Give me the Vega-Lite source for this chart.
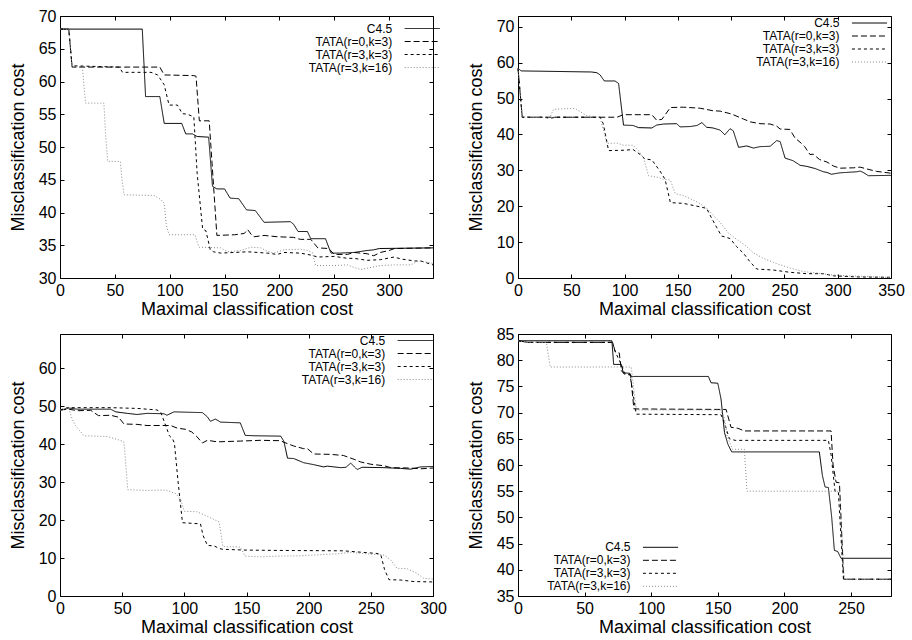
{
"$schema":"https://vega.github.io/schema/vega-lite/v6.json",
"background":"white",
"padding":{"left":8,"top":7,"right":0,"bottom":0},
"config":{
 "font":"Liberation Sans",
 "view":{"stroke":"black","strokeWidth":1},
 "axis":{"domain":false,"grid":false,"ticks":true,"tickSize":-4,"tickColor":"black","tickWidth":1,"labelFont":"Liberation Sans","labelFontSize":16,"labelColor":"black","labelPadding":8,"labelFlush":false,"labelOverlap":false,"titleFont":"Liberation Sans","titleFontSize":18,"titleFontWeight":"normal","titleColor":"black"},
 "axisX":{"titlePadding":2},
 "axisY":{"titlePadding":11},
 "legend":{"title":null,"orient":"none","symbolType":"M-3,0H3","symbolSize":137,"symbolStrokeWidth":1,"symbolOffset":15,"rowPadding":0,"labelAlign":"right","labelOffset":-36.5,"labelFontSize":12,"labelFont":"Liberation Sans","labelColor":"black","padding":0},
 "line":{"strokeWidth":1}
},
"datasets":{
"p1":[
{"s":"C4.5","x":0,"y":68},{"s":"C4.5","x":75,"y":68},{"s":"C4.5","x":78,"y":57.7},{"s":"C4.5","x":91,"y":57.7},{"s":"C4.5","x":95,"y":53.6},{"s":"C4.5","x":111,"y":53.6},{"s":"C4.5","x":114.6,"y":52},{"s":"C4.5","x":120.7,"y":52},{"s":"C4.5","x":125,"y":51.6},{"s":"C4.5","x":135.5,"y":51.5},{"s":"C4.5","x":139,"y":44},{"s":"C4.5","x":143,"y":43.6},{"s":"C4.5","x":150,"y":43.6},{"s":"C4.5","x":155,"y":42.2},{"s":"C4.5","x":163,"y":42.1},{"s":"C4.5","x":170,"y":40.4},{"s":"C4.5","x":178,"y":40.3},{"s":"C4.5","x":186,"y":38.5},{"s":"C4.5","x":210,"y":38.6},{"s":"C4.5","x":213,"y":38.2},{"s":"C4.5","x":217,"y":37.1},{"s":"C4.5","x":225.5,"y":37.1},{"s":"C4.5","x":228.6,"y":36},{"s":"C4.5","x":242,"y":36},{"s":"C4.5","x":247,"y":33.8},{"s":"C4.5","x":255,"y":33.8},{"s":"C4.5","x":268,"y":33.9},{"s":"C4.5","x":280,"y":34.2},{"s":"C4.5","x":286,"y":34.3},{"s":"C4.5","x":291,"y":34.5},{"s":"C4.5","x":340,"y":34.6},
{"s":"TATA(r=0,k=3)","x":0,"y":68},{"s":"TATA(r=0,k=3)","x":8,"y":68},{"s":"TATA(r=0,k=3)","x":11,"y":62.2},{"s":"TATA(r=0,k=3)","x":91,"y":62.2},{"s":"TATA(r=0,k=3)","x":95,"y":61},{"s":"TATA(r=0,k=3)","x":122,"y":60.9},{"s":"TATA(r=0,k=3)","x":124,"y":60.8},{"s":"TATA(r=0,k=3)","x":127,"y":54},{"s":"TATA(r=0,k=3)","x":136,"y":54},{"s":"TATA(r=0,k=3)","x":143,"y":36.5},{"s":"TATA(r=0,k=3)","x":159,"y":36.6},{"s":"TATA(r=0,k=3)","x":168,"y":36.8},{"s":"TATA(r=0,k=3)","x":171,"y":37.4},{"s":"TATA(r=0,k=3)","x":175,"y":36.5},{"s":"TATA(r=0,k=3)","x":177,"y":36.3},{"s":"TATA(r=0,k=3)","x":186,"y":36.5},{"s":"TATA(r=0,k=3)","x":198,"y":36.3},{"s":"TATA(r=0,k=3)","x":213,"y":36.2},{"s":"TATA(r=0,k=3)","x":219,"y":35.9},{"s":"TATA(r=0,k=3)","x":228.6,"y":35.9},{"s":"TATA(r=0,k=3)","x":235,"y":34.6},{"s":"TATA(r=0,k=3)","x":245,"y":34.5},{"s":"TATA(r=0,k=3)","x":250,"y":33.6},{"s":"TATA(r=0,k=3)","x":262,"y":33.6},{"s":"TATA(r=0,k=3)","x":268,"y":33.9},{"s":"TATA(r=0,k=3)","x":280,"y":33.7},{"s":"TATA(r=0,k=3)","x":286,"y":33.4},{"s":"TATA(r=0,k=3)","x":292,"y":33.9},{"s":"TATA(r=0,k=3)","x":300,"y":34.2},{"s":"TATA(r=0,k=3)","x":305,"y":34.5},{"s":"TATA(r=0,k=3)","x":340,"y":34.6},
{"s":"TATA(r=3,k=3)","x":0,"y":68},{"s":"TATA(r=3,k=3)","x":8,"y":68},{"s":"TATA(r=3,k=3)","x":11,"y":62.4},{"s":"TATA(r=3,k=3)","x":54,"y":62.2},{"s":"TATA(r=3,k=3)","x":57,"y":61.4},{"s":"TATA(r=3,k=3)","x":83,"y":61.4},{"s":"TATA(r=3,k=3)","x":89,"y":61},{"s":"TATA(r=3,k=3)","x":95,"y":59.5},{"s":"TATA(r=3,k=3)","x":99.4,"y":56.4},{"s":"TATA(r=3,k=3)","x":107,"y":56.4},{"s":"TATA(r=3,k=3)","x":111.5,"y":55.1},{"s":"TATA(r=3,k=3)","x":116,"y":55},{"s":"TATA(r=3,k=3)","x":122,"y":54.6},{"s":"TATA(r=3,k=3)","x":125,"y":46},{"s":"TATA(r=3,k=3)","x":130,"y":37.5},{"s":"TATA(r=3,k=3)","x":133,"y":37.2},{"s":"TATA(r=3,k=3)","x":137,"y":34.3},{"s":"TATA(r=3,k=3)","x":140,"y":34},{"s":"TATA(r=3,k=3)","x":146.5,"y":33.8},{"s":"TATA(r=3,k=3)","x":159,"y":33.9},{"s":"TATA(r=3,k=3)","x":171,"y":34},{"s":"TATA(r=3,k=3)","x":189,"y":33.8},{"s":"TATA(r=3,k=3)","x":198,"y":33.6},{"s":"TATA(r=3,k=3)","x":204,"y":33.9},{"s":"TATA(r=3,k=3)","x":219,"y":33.8},{"s":"TATA(r=3,k=3)","x":228.6,"y":33.5},{"s":"TATA(r=3,k=3)","x":235,"y":33.2},{"s":"TATA(r=3,k=3)","x":250,"y":33.3},{"s":"TATA(r=3,k=3)","x":262,"y":33},{"s":"TATA(r=3,k=3)","x":268,"y":33},{"s":"TATA(r=3,k=3)","x":280,"y":32.7},{"s":"TATA(r=3,k=3)","x":292,"y":32.8},{"s":"TATA(r=3,k=3)","x":304.6,"y":33.2},{"s":"TATA(r=3,k=3)","x":311,"y":32.9},{"s":"TATA(r=3,k=3)","x":323,"y":32.6},{"s":"TATA(r=3,k=3)","x":329,"y":32.6},{"s":"TATA(r=3,k=3)","x":340,"y":32},
{"s":"TATA(r=3,k=16)","x":0,"y":68},{"s":"TATA(r=3,k=16)","x":8,"y":68},{"s":"TATA(r=3,k=16)","x":11,"y":62.2},{"s":"TATA(r=3,k=16)","x":20.4,"y":62.2},{"s":"TATA(r=3,k=16)","x":22,"y":59},{"s":"TATA(r=3,k=16)","x":23.4,"y":56.7},{"s":"TATA(r=3,k=16)","x":40,"y":56.7},{"s":"TATA(r=3,k=16)","x":41.5,"y":52},{"s":"TATA(r=3,k=16)","x":43.5,"y":47.8},{"s":"TATA(r=3,k=16)","x":55,"y":47.8},{"s":"TATA(r=3,k=16)","x":56.5,"y":45},{"s":"TATA(r=3,k=16)","x":58.4,"y":42.7},{"s":"TATA(r=3,k=16)","x":85.7,"y":42.6},{"s":"TATA(r=3,k=16)","x":91.8,"y":42},{"s":"TATA(r=3,k=16)","x":95,"y":41.4},{"s":"TATA(r=3,k=16)","x":97,"y":38},{"s":"TATA(r=3,k=16)","x":99.4,"y":36.6},{"s":"TATA(r=3,k=16)","x":123,"y":36.6},{"s":"TATA(r=3,k=16)","x":125,"y":35.5},{"s":"TATA(r=3,k=16)","x":126.9,"y":34.7},{"s":"TATA(r=3,k=16)","x":146.5,"y":34.6},{"s":"TATA(r=3,k=16)","x":152.6,"y":34},{"s":"TATA(r=3,k=16)","x":164.7,"y":34.2},{"s":"TATA(r=3,k=16)","x":174,"y":34.7},{"s":"TATA(r=3,k=16)","x":183,"y":34.6},{"s":"TATA(r=3,k=16)","x":189,"y":34.1},{"s":"TATA(r=3,k=16)","x":195,"y":33.8},{"s":"TATA(r=3,k=16)","x":204,"y":34.3},{"s":"TATA(r=3,k=16)","x":219,"y":34.4},{"s":"TATA(r=3,k=16)","x":225.5,"y":34.2},{"s":"TATA(r=3,k=16)","x":230,"y":33.9},{"s":"TATA(r=3,k=16)","x":233,"y":31.9},{"s":"TATA(r=3,k=16)","x":250,"y":31.9},{"s":"TATA(r=3,k=16)","x":262,"y":32},{"s":"TATA(r=3,k=16)","x":268,"y":31.6},{"s":"TATA(r=3,k=16)","x":274,"y":31.3},{"s":"TATA(r=3,k=16)","x":280,"y":31.5},{"s":"TATA(r=3,k=16)","x":292,"y":31.9},{"s":"TATA(r=3,k=16)","x":304.6,"y":32},{"s":"TATA(r=3,k=16)","x":320,"y":32},{"s":"TATA(r=3,k=16)","x":326,"y":32.6},{"s":"TATA(r=3,k=16)","x":335,"y":32.4},{"s":"TATA(r=3,k=16)","x":340,"y":32.2}
],
"p2":[
{"s":"C4.5","x":0,"y":58.4},{"s":"C4.5","x":3,"y":57.7},{"s":"C4.5","x":69,"y":57.4},{"s":"C4.5","x":74,"y":57.2},{"s":"C4.5","x":77,"y":56.6},{"s":"C4.5","x":81,"y":54.9},{"s":"C4.5","x":91,"y":54.9},{"s":"C4.5","x":94.4,"y":54.2},{"s":"C4.5","x":99,"y":42.6},{"s":"C4.5","x":108,"y":42.5},{"s":"C4.5","x":113,"y":41.9},{"s":"C4.5","x":125.6,"y":41.8},{"s":"C4.5","x":130,"y":42.6},{"s":"C4.5","x":136.6,"y":42.9},{"s":"C4.5","x":149,"y":43},{"s":"C4.5","x":152,"y":42.1},{"s":"C4.5","x":161.6,"y":42.2},{"s":"C4.5","x":168,"y":42.5},{"s":"C4.5","x":172.5,"y":43.3},{"s":"C4.5","x":177,"y":42},{"s":"C4.5","x":183,"y":41.8},{"s":"C4.5","x":189.7,"y":41.2},{"s":"C4.5","x":194,"y":39.9},{"s":"C4.5","x":199,"y":41.6},{"s":"C4.5","x":202,"y":41},{"s":"C4.5","x":207,"y":36.4},{"s":"C4.5","x":214.7,"y":36.8},{"s":"C4.5","x":221,"y":36.2},{"s":"C4.5","x":227,"y":36.6},{"s":"C4.5","x":236.6,"y":36.7},{"s":"C4.5","x":242.8,"y":38.3},{"s":"C4.5","x":246,"y":38},{"s":"C4.5","x":250.6,"y":33.4},{"s":"C4.5","x":258,"y":32.7},{"s":"C4.5","x":264.7,"y":31.4},{"s":"C4.5","x":271,"y":31.1},{"s":"C4.5","x":278.8,"y":30.5},{"s":"C4.5","x":286.6,"y":29.6},{"s":"C4.5","x":290,"y":29.4},{"s":"C4.5","x":294,"y":28.9},{"s":"C4.5","x":302,"y":29.3},{"s":"C4.5","x":318,"y":29.6},{"s":"C4.5","x":321,"y":29.8},{"s":"C4.5","x":324,"y":29.4},{"s":"C4.5","x":328.8,"y":28.5},{"s":"C4.5","x":350,"y":28.6},
{"s":"TATA(r=0,k=3)","x":0,"y":58.4},{"s":"TATA(r=0,k=3)","x":4,"y":44.8},{"s":"TATA(r=0,k=3)","x":92.8,"y":44.8},{"s":"TATA(r=0,k=3)","x":99,"y":45.5},{"s":"TATA(r=0,k=3)","x":125.6,"y":45.5},{"s":"TATA(r=0,k=3)","x":130,"y":44},{"s":"TATA(r=0,k=3)","x":135,"y":44.2},{"s":"TATA(r=0,k=3)","x":143,"y":47.5},{"s":"TATA(r=0,k=3)","x":155,"y":47.6},{"s":"TATA(r=0,k=3)","x":171,"y":47.3},{"s":"TATA(r=0,k=3)","x":183,"y":46.6},{"s":"TATA(r=0,k=3)","x":189.7,"y":46.5},{"s":"TATA(r=0,k=3)","x":199,"y":45.8},{"s":"TATA(r=0,k=3)","x":202,"y":45.5},{"s":"TATA(r=0,k=3)","x":211.5,"y":44.3},{"s":"TATA(r=0,k=3)","x":218,"y":43.5},{"s":"TATA(r=0,k=3)","x":227,"y":43},{"s":"TATA(r=0,k=3)","x":236.6,"y":42.9},{"s":"TATA(r=0,k=3)","x":242.8,"y":42.3},{"s":"TATA(r=0,k=3)","x":246,"y":41.5},{"s":"TATA(r=0,k=3)","x":255,"y":41.4},{"s":"TATA(r=0,k=3)","x":260,"y":39},{"s":"TATA(r=0,k=3)","x":266,"y":37.5},{"s":"TATA(r=0,k=3)","x":269,"y":36.6},{"s":"TATA(r=0,k=3)","x":274,"y":34.4},{"s":"TATA(r=0,k=3)","x":277,"y":34.5},{"s":"TATA(r=0,k=3)","x":283,"y":33},{"s":"TATA(r=0,k=3)","x":290,"y":32.3},{"s":"TATA(r=0,k=3)","x":296,"y":31.2},{"s":"TATA(r=0,k=3)","x":302,"y":30.6},{"s":"TATA(r=0,k=3)","x":315,"y":30.7},{"s":"TATA(r=0,k=3)","x":321,"y":30.9},{"s":"TATA(r=0,k=3)","x":327,"y":30.4},{"s":"TATA(r=0,k=3)","x":336.6,"y":29.7},{"s":"TATA(r=0,k=3)","x":350,"y":29.2},
{"s":"TATA(r=3,k=3)","x":0,"y":58.4},{"s":"TATA(r=3,k=3)","x":4,"y":44.8},{"s":"TATA(r=3,k=3)","x":24,"y":44.8},{"s":"TATA(r=3,k=3)","x":30,"y":44.5},{"s":"TATA(r=3,k=3)","x":36,"y":44.8},{"s":"TATA(r=3,k=3)","x":77,"y":44.8},{"s":"TATA(r=3,k=3)","x":80,"y":43},{"s":"TATA(r=3,k=3)","x":85,"y":35.5},{"s":"TATA(r=3,k=3)","x":100,"y":35.6},{"s":"TATA(r=3,k=3)","x":108,"y":35.8},{"s":"TATA(r=3,k=3)","x":114.7,"y":34.4},{"s":"TATA(r=3,k=3)","x":119,"y":33.2},{"s":"TATA(r=3,k=3)","x":125.6,"y":32.9},{"s":"TATA(r=3,k=3)","x":133,"y":29.9},{"s":"TATA(r=3,k=3)","x":138,"y":27.5},{"s":"TATA(r=3,k=3)","x":143,"y":21},{"s":"TATA(r=3,k=3)","x":155,"y":20.8},{"s":"TATA(r=3,k=3)","x":168,"y":20},{"s":"TATA(r=3,k=3)","x":177,"y":19.4},{"s":"TATA(r=3,k=3)","x":180,"y":17.6},{"s":"TATA(r=3,k=3)","x":186.6,"y":14},{"s":"TATA(r=3,k=3)","x":191,"y":11.7},{"s":"TATA(r=3,k=3)","x":199,"y":11},{"s":"TATA(r=3,k=3)","x":205,"y":8.8},{"s":"TATA(r=3,k=3)","x":211.5,"y":6.9},{"s":"TATA(r=3,k=3)","x":218,"y":4.4},{"s":"TATA(r=3,k=3)","x":224,"y":2.5},{"s":"TATA(r=3,k=3)","x":240,"y":2.2},{"s":"TATA(r=3,k=3)","x":255,"y":1.6},{"s":"TATA(r=3,k=3)","x":271,"y":1.2},{"s":"TATA(r=3,k=3)","x":286.6,"y":1.2},{"s":"TATA(r=3,k=3)","x":296,"y":0.6},{"s":"TATA(r=3,k=3)","x":318,"y":0.3},{"s":"TATA(r=3,k=3)","x":350,"y":0.2},
{"s":"TATA(r=3,k=16)","x":0,"y":58.4},{"s":"TATA(r=3,k=16)","x":4,"y":44.8},{"s":"TATA(r=3,k=16)","x":30,"y":44.8},{"s":"TATA(r=3,k=16)","x":33.4,"y":47},{"s":"TATA(r=3,k=16)","x":46,"y":47.2},{"s":"TATA(r=3,k=16)","x":53.8,"y":47.2},{"s":"TATA(r=3,k=16)","x":58,"y":46.4},{"s":"TATA(r=3,k=16)","x":64.7,"y":45.2},{"s":"TATA(r=3,k=16)","x":77,"y":44.8},{"s":"TATA(r=3,k=16)","x":83.4,"y":37.5},{"s":"TATA(r=3,k=16)","x":92.8,"y":37.6},{"s":"TATA(r=3,k=16)","x":99,"y":37},{"s":"TATA(r=3,k=16)","x":108,"y":37},{"s":"TATA(r=3,k=16)","x":113,"y":35.5},{"s":"TATA(r=3,k=16)","x":117.8,"y":33.4},{"s":"TATA(r=3,k=16)","x":122.5,"y":28.5},{"s":"TATA(r=3,k=16)","x":132,"y":28},{"s":"TATA(r=3,k=16)","x":136.6,"y":27.5},{"s":"TATA(r=3,k=16)","x":143,"y":27.3},{"s":"TATA(r=3,k=16)","x":147.5,"y":23.5},{"s":"TATA(r=3,k=16)","x":155,"y":23},{"s":"TATA(r=3,k=16)","x":168,"y":21.2},{"s":"TATA(r=3,k=16)","x":177,"y":19.5},{"s":"TATA(r=3,k=16)","x":183,"y":17.5},{"s":"TATA(r=3,k=16)","x":189.7,"y":15.5},{"s":"TATA(r=3,k=16)","x":197.5,"y":12.5},{"s":"TATA(r=3,k=16)","x":205,"y":10.8},{"s":"TATA(r=3,k=16)","x":213,"y":9.2},{"s":"TATA(r=3,k=16)","x":221,"y":7},{"s":"TATA(r=3,k=16)","x":230,"y":5.5},{"s":"TATA(r=3,k=16)","x":242.8,"y":4},{"s":"TATA(r=3,k=16)","x":255,"y":2.8},{"s":"TATA(r=3,k=16)","x":268,"y":1.8},{"s":"TATA(r=3,k=16)","x":280,"y":1.4},{"s":"TATA(r=3,k=16)","x":292.8,"y":0.9},{"s":"TATA(r=3,k=16)","x":311.5,"y":0.6},{"s":"TATA(r=3,k=16)","x":330,"y":0.4},{"s":"TATA(r=3,k=16)","x":350,"y":0.1}
],
"p3":[
{"s":"C4.5","x":0,"y":48.9},{"s":"C4.5","x":7,"y":49.5},{"s":"C4.5","x":14,"y":49.2},{"s":"C4.5","x":40.7,"y":49.2},{"s":"C4.5","x":44.8,"y":48.5},{"s":"C4.5","x":54,"y":48.1},{"s":"C4.5","x":62,"y":47.8},{"s":"C4.5","x":70,"y":48.1},{"s":"C4.5","x":83.6,"y":48},{"s":"C4.5","x":86,"y":47.6},{"s":"C4.5","x":91.7,"y":48.5},{"s":"C4.5","x":102,"y":48.4},{"s":"C4.5","x":114.5,"y":48.3},{"s":"C4.5","x":118.5,"y":47.2},{"s":"C4.5","x":121,"y":46},{"s":"C4.5","x":125,"y":46.6},{"s":"C4.5","x":129,"y":45.8},{"s":"C4.5","x":145,"y":45.6},{"s":"C4.5","x":149,"y":42.3},{"s":"C4.5","x":156,"y":42.2},{"s":"C4.5","x":177.5,"y":42.1},{"s":"C4.5","x":180,"y":40.8},{"s":"C4.5","x":183,"y":36.3},{"s":"C4.5","x":188,"y":36.2},{"s":"C4.5","x":196,"y":35.1},{"s":"C4.5","x":204,"y":34.6},{"s":"C4.5","x":212,"y":34},{"s":"C4.5","x":215,"y":34.2},{"s":"C4.5","x":225.7,"y":33.8},{"s":"C4.5","x":230,"y":33.9},{"s":"C4.5","x":233.8,"y":35},{"s":"C4.5","x":239,"y":33.3},{"s":"C4.5","x":243,"y":33.9},{"s":"C4.5","x":260.6,"y":33.8},{"s":"C4.5","x":274,"y":33.6},{"s":"C4.5","x":282,"y":33.4},{"s":"C4.5","x":290,"y":34},{"s":"C4.5","x":300,"y":34.1},
{"s":"TATA(r=0,k=3)","x":0,"y":49},{"s":"TATA(r=0,k=3)","x":7,"y":49.2},{"s":"TATA(r=0,k=3)","x":14,"y":48.8},{"s":"TATA(r=0,k=3)","x":24.7,"y":48.9},{"s":"TATA(r=0,k=3)","x":31,"y":47.5},{"s":"TATA(r=0,k=3)","x":40.7,"y":47.6},{"s":"TATA(r=0,k=3)","x":47,"y":47.1},{"s":"TATA(r=0,k=3)","x":51.5,"y":45.3},{"s":"TATA(r=0,k=3)","x":62,"y":45.2},{"s":"TATA(r=0,k=3)","x":70,"y":44.9},{"s":"TATA(r=0,k=3)","x":89,"y":44.9},{"s":"TATA(r=0,k=3)","x":94.4,"y":44.2},{"s":"TATA(r=0,k=3)","x":101,"y":43.9},{"s":"TATA(r=0,k=3)","x":106,"y":43.2},{"s":"TATA(r=0,k=3)","x":110,"y":42},{"s":"TATA(r=0,k=3)","x":114.5,"y":40.3},{"s":"TATA(r=0,k=3)","x":118.5,"y":41},{"s":"TATA(r=0,k=3)","x":126.5,"y":40.6},{"s":"TATA(r=0,k=3)","x":145,"y":40.8},{"s":"TATA(r=0,k=3)","x":161,"y":41},{"s":"TATA(r=0,k=3)","x":177.5,"y":40.9},{"s":"TATA(r=0,k=3)","x":180,"y":40.5},{"s":"TATA(r=0,k=3)","x":188,"y":39.5},{"s":"TATA(r=0,k=3)","x":196,"y":38.8},{"s":"TATA(r=0,k=3)","x":199,"y":38.8},{"s":"TATA(r=0,k=3)","x":204,"y":37.4},{"s":"TATA(r=0,k=3)","x":217.7,"y":37.3},{"s":"TATA(r=0,k=3)","x":228,"y":37},{"s":"TATA(r=0,k=3)","x":236.5,"y":36},{"s":"TATA(r=0,k=3)","x":241.8,"y":35.3},{"s":"TATA(r=0,k=3)","x":250,"y":34.7},{"s":"TATA(r=0,k=3)","x":260.6,"y":34.3},{"s":"TATA(r=0,k=3)","x":266,"y":33.8},{"s":"TATA(r=0,k=3)","x":282,"y":33.7},{"s":"TATA(r=0,k=3)","x":290,"y":33.5},{"s":"TATA(r=0,k=3)","x":300,"y":33.7},
{"s":"TATA(r=3,k=3)","x":0,"y":49},{"s":"TATA(r=3,k=3)","x":6,"y":49.6},{"s":"TATA(r=3,k=3)","x":40.7,"y":49.6},{"s":"TATA(r=3,k=3)","x":62,"y":49.4},{"s":"TATA(r=3,k=3)","x":78,"y":49},{"s":"TATA(r=3,k=3)","x":81,"y":48.4},{"s":"TATA(r=3,k=3)","x":85,"y":44.9},{"s":"TATA(r=3,k=3)","x":88,"y":42.2},{"s":"TATA(r=3,k=3)","x":90.5,"y":41.4},{"s":"TATA(r=3,k=3)","x":92,"y":40.3},{"s":"TATA(r=3,k=3)","x":95,"y":30},{"s":"TATA(r=3,k=3)","x":98.5,"y":19.3},{"s":"TATA(r=3,k=3)","x":113,"y":19},{"s":"TATA(r=3,k=3)","x":115,"y":16},{"s":"TATA(r=3,k=3)","x":118.6,"y":13.3},{"s":"TATA(r=3,k=3)","x":124,"y":13.2},{"s":"TATA(r=3,k=3)","x":128,"y":12.5},{"s":"TATA(r=3,k=3)","x":131,"y":12.3},{"s":"TATA(r=3,k=3)","x":148,"y":12.1},{"s":"TATA(r=3,k=3)","x":175,"y":12},{"s":"TATA(r=3,k=3)","x":228,"y":11.9},{"s":"TATA(r=3,k=3)","x":247,"y":11.4},{"s":"TATA(r=3,k=3)","x":255,"y":11.2},{"s":"TATA(r=3,k=3)","x":258,"y":10.9},{"s":"TATA(r=3,k=3)","x":261,"y":7},{"s":"TATA(r=3,k=3)","x":264.6,"y":4.3},{"s":"TATA(r=3,k=3)","x":274,"y":4.2},{"s":"TATA(r=3,k=3)","x":284.7,"y":3.8},{"s":"TATA(r=3,k=3)","x":300,"y":3.7},
{"s":"TATA(r=3,k=16)","x":0,"y":49},{"s":"TATA(r=3,k=16)","x":7,"y":49.4},{"s":"TATA(r=3,k=16)","x":10,"y":46.4},{"s":"TATA(r=3,k=16)","x":12.6,"y":44.8},{"s":"TATA(r=3,k=16)","x":19.3,"y":42.2},{"s":"TATA(r=3,k=16)","x":38,"y":42},{"s":"TATA(r=3,k=16)","x":43.4,"y":41.5},{"s":"TATA(r=3,k=16)","x":50,"y":40.8},{"s":"TATA(r=3,k=16)","x":51.5,"y":40.5},{"s":"TATA(r=3,k=16)","x":54.5,"y":28},{"s":"TATA(r=3,k=16)","x":70,"y":27.8},{"s":"TATA(r=3,k=16)","x":85,"y":27.9},{"s":"TATA(r=3,k=16)","x":93,"y":27},{"s":"TATA(r=3,k=16)","x":97,"y":25.5},{"s":"TATA(r=3,k=16)","x":100,"y":22.3},{"s":"TATA(r=3,k=16)","x":110,"y":22.2},{"s":"TATA(r=3,k=16)","x":118.5,"y":21},{"s":"TATA(r=3,k=16)","x":128,"y":19.5},{"s":"TATA(r=3,k=16)","x":131,"y":13},{"s":"TATA(r=3,k=16)","x":145,"y":12.9},{"s":"TATA(r=3,k=16)","x":149,"y":10.5},{"s":"TATA(r=3,k=16)","x":161,"y":10.3},{"s":"TATA(r=3,k=16)","x":175,"y":10.5},{"s":"TATA(r=3,k=16)","x":193.6,"y":10.6},{"s":"TATA(r=3,k=16)","x":209.7,"y":10.9},{"s":"TATA(r=3,k=16)","x":223,"y":11.1},{"s":"TATA(r=3,k=16)","x":233.8,"y":11.5},{"s":"TATA(r=3,k=16)","x":247,"y":11.1},{"s":"TATA(r=3,k=16)","x":260.6,"y":10.8},{"s":"TATA(r=3,k=16)","x":266,"y":9.5},{"s":"TATA(r=3,k=16)","x":271,"y":7.3},{"s":"TATA(r=3,k=16)","x":279,"y":7.2},{"s":"TATA(r=3,k=16)","x":287,"y":6},{"s":"TATA(r=3,k=16)","x":292.8,"y":4.6},{"s":"TATA(r=3,k=16)","x":300,"y":4.5}
],
"p4":[
{"s":"C4.5","x":0,"y":83.7},{"s":"C4.5","x":70.5,"y":83.7},{"s":"C4.5","x":71.8,"y":79.2},{"s":"C4.5","x":77.6,"y":79.2},{"s":"C4.5","x":79,"y":77.6},{"s":"C4.5","x":84,"y":77.5},{"s":"C4.5","x":85,"y":76.9},{"s":"C4.5","x":142.9,"y":76.9},{"s":"C4.5","x":144.9,"y":75.7},{"s":"C4.5","x":150,"y":75.6},{"s":"C4.5","x":152.4,"y":72.6},{"s":"C4.5","x":155,"y":66.2},{"s":"C4.5","x":157.5,"y":64},{"s":"C4.5","x":160.4,"y":62.5},{"s":"C4.5","x":226.2,"y":62.5},{"s":"C4.5","x":228.5,"y":58},{"s":"C4.5","x":230.5,"y":55.8},{"s":"C4.5","x":233,"y":55.7},{"s":"C4.5","x":235.5,"y":50},{"s":"C4.5","x":237.5,"y":43.7},{"s":"C4.5","x":240,"y":43.5},{"s":"C4.5","x":242.5,"y":42.2},{"s":"C4.5","x":280,"y":42.2},
{"s":"TATA(r=0,k=3)","x":0,"y":83.7},{"s":"TATA(r=0,k=3)","x":7.5,"y":83.4},{"s":"TATA(r=0,k=3)","x":71,"y":83.4},{"s":"TATA(r=0,k=3)","x":73,"y":81.6},{"s":"TATA(r=0,k=3)","x":76,"y":81.4},{"s":"TATA(r=0,k=3)","x":77.6,"y":78},{"s":"TATA(r=0,k=3)","x":80,"y":77.3},{"s":"TATA(r=0,k=3)","x":84.5,"y":77.2},{"s":"TATA(r=0,k=3)","x":87,"y":70.7},{"s":"TATA(r=0,k=3)","x":156.2,"y":70.6},{"s":"TATA(r=0,k=3)","x":159.9,"y":67.2},{"s":"TATA(r=0,k=3)","x":165,"y":67},{"s":"TATA(r=0,k=3)","x":170,"y":66.5},{"s":"TATA(r=0,k=3)","x":235,"y":66.5},{"s":"TATA(r=0,k=3)","x":236.5,"y":60},{"s":"TATA(r=0,k=3)","x":238.8,"y":56.7},{"s":"TATA(r=0,k=3)","x":241.3,"y":56.6},{"s":"TATA(r=0,k=3)","x":244.5,"y":38.2},{"s":"TATA(r=0,k=3)","x":280,"y":38.2},
{"s":"TATA(r=3,k=3)","x":0,"y":83.7},{"s":"TATA(r=3,k=3)","x":7.5,"y":83.4},{"s":"TATA(r=3,k=3)","x":71,"y":83.4},{"s":"TATA(r=3,k=3)","x":72.5,"y":82},{"s":"TATA(r=3,k=3)","x":75,"y":80.5},{"s":"TATA(r=3,k=3)","x":77,"y":79.5},{"s":"TATA(r=3,k=3)","x":80,"y":77.5},{"s":"TATA(r=3,k=3)","x":84,"y":77.3},{"s":"TATA(r=3,k=3)","x":88.8,"y":69.7},{"s":"TATA(r=3,k=3)","x":152.4,"y":69.6},{"s":"TATA(r=3,k=3)","x":155,"y":68},{"s":"TATA(r=3,k=3)","x":158.7,"y":65},{"s":"TATA(r=3,k=3)","x":163,"y":64.7},{"s":"TATA(r=3,k=3)","x":233,"y":64.7},{"s":"TATA(r=3,k=3)","x":235,"y":62},{"s":"TATA(r=3,k=3)","x":238,"y":55},{"s":"TATA(r=3,k=3)","x":240.5,"y":54.8},{"s":"TATA(r=3,k=3)","x":244.3,"y":38.2},{"s":"TATA(r=3,k=3)","x":280,"y":38.2},
{"s":"TATA(r=3,k=16)","x":0,"y":83.7},{"s":"TATA(r=3,k=16)","x":7.5,"y":83.4},{"s":"TATA(r=3,k=16)","x":21.3,"y":83.4},{"s":"TATA(r=3,k=16)","x":24.2,"y":78.7},{"s":"TATA(r=3,k=16)","x":85,"y":78.7},{"s":"TATA(r=3,k=16)","x":88.8,"y":70.5},{"s":"TATA(r=3,k=16)","x":152,"y":70.5},{"s":"TATA(r=3,k=16)","x":155,"y":69},{"s":"TATA(r=3,k=16)","x":157,"y":65.5},{"s":"TATA(r=3,k=16)","x":161,"y":63},{"s":"TATA(r=3,k=16)","x":169.9,"y":63},{"s":"TATA(r=3,k=16)","x":171.9,"y":55},{"s":"TATA(r=3,k=16)","x":241.2,"y":55},{"s":"TATA(r=3,k=16)","x":245,"y":38.2},{"s":"TATA(r=3,k=16)","x":280,"y":38.2}
]
},
"spacing":6,
"bounds":"full",
"resolve":{"scale":{"color":"independent","strokeDash":"independent"},"legend":{"color":"independent","strokeDash":"independent"}},
"vconcat":[
{"hconcat":[
{"width":373,"height":262,"resolve":{"axis":{"x":"independent","y":"independent"}},"layer":[
 {"data":{"name":"p1"},"mark":{"type":"line","strokeWidth":1},"encoding":{
  "x":{"field":"x","type":"quantitative","scale":{"domain":[0,340],"nice":false,"zero":false},"axis":{"values":[0,50,100,150,200,250,300],"title":"Maximal classification cost"}},
  "y":{"field":"y","type":"quantitative","scale":{"domain":[30,70],"nice":false,"zero":false},"axis":{"values":[30,35,40,45,50,55,60,65,70],"title":"Misclassification cost"}},
  "color":{"field":"s","type":"nominal","scale":{"domain":["C4.5","TATA(r=0,k=3)","TATA(r=3,k=3)","TATA(r=3,k=16)"],"range":["#000000","#000000","#000000","#8a8a8a"]},"legend":{"legendX":340.7,"legendY":6}},
  "strokeDash":{"field":"s","type":"nominal","scale":{"domain":["C4.5","TATA(r=0,k=3)","TATA(r=3,k=3)","TATA(r=3,k=16)"],"range":[[1,0],[6,3],[3,3],[1,2]]},"legend":{"legendX":340.7,"legendY":6}}
 }},
 {"data":{"name":"p1"},"mark":{"type":"point","opacity":0},"encoding":{
  "x":{"field":"x","type":"quantitative","scale":{"domain":[0,340],"nice":false,"zero":false},"axis":{"orient":"top","values":[0,50,100,150,200,250,300],"labels":false,"title":null}},
  "y":{"field":"y","type":"quantitative","scale":{"domain":[30,70],"nice":false,"zero":false},"axis":{"orient":"right","values":[30,35,40,45,50,55,60,65,70],"labels":false,"title":null}}
 }}
]},
{"width":373,"height":262,"resolve":{"axis":{"x":"independent","y":"independent"}},"layer":[
 {"data":{"name":"p2"},"mark":{"type":"line","strokeWidth":1},"encoding":{
  "x":{"field":"x","type":"quantitative","scale":{"domain":[0,350],"nice":false,"zero":false},"axis":{"values":[0,50,100,150,200,250,300,350],"title":"Maximal classification cost"}},
  "y":{"field":"y","type":"quantitative","scale":{"domain":[0,73],"nice":false,"zero":false},"axis":{"values":[0,10,20,30,40,50,60,70],"title":"Misclassification cost"}},
  "color":{"field":"s","type":"nominal","scale":{"domain":["C4.5","TATA(r=0,k=3)","TATA(r=3,k=3)","TATA(r=3,k=16)"],"range":["#000000","#000000","#000000","#8a8a8a"]},"legend":{"legendX":330,"legendY":0.5}},
  "strokeDash":{"field":"s","type":"nominal","scale":{"domain":["C4.5","TATA(r=0,k=3)","TATA(r=3,k=3)","TATA(r=3,k=16)"],"range":[[1,0],[6,3],[3,3],[1,2]]},"legend":{"legendX":330,"legendY":0.5}}
 }},
 {"data":{"name":"p2"},"mark":{"type":"point","opacity":0},"encoding":{
  "x":{"field":"x","type":"quantitative","scale":{"domain":[0,350],"nice":false,"zero":false},"axis":{"orient":"top","values":[0,50,100,150,200,250,300,350],"labels":false,"title":null}},
  "y":{"field":"y","type":"quantitative","scale":{"domain":[0,73],"nice":false,"zero":false},"axis":{"orient":"right","values":[0,10,20,30,40,50,60,70],"labels":false,"title":null}}
 }}
]}
],"spacing":85,"bounds":"flush","resolve":{"scale":{"color":"independent","strokeDash":"independent"},"legend":{"color":"independent","strokeDash":"independent"}}},
{"hconcat":[
{"width":373,"height":262,"resolve":{"axis":{"x":"independent","y":"independent"}},"layer":[
 {"data":{"name":"p3"},"mark":{"type":"line","strokeWidth":1},"encoding":{
  "x":{"field":"x","type":"quantitative","scale":{"domain":[0,300],"nice":false,"zero":false},"axis":{"values":[0,50,100,150,200,250,300],"title":"Maximal classification cost"}},
  "y":{"field":"y","type":"quantitative","scale":{"domain":[0,69],"nice":false,"zero":false},"axis":{"values":[0,10,20,30,40,50,60],"title":"Misclassification cost"}},
  "color":{"field":"s","type":"nominal","scale":{"domain":["C4.5","TATA(r=0,k=3)","TATA(r=3,k=3)","TATA(r=3,k=16)"],"range":["#000000","#000000","#000000","#8a8a8a"]},"legend":{"legendX":333.7,"legendY":0}},
  "strokeDash":{"field":"s","type":"nominal","scale":{"domain":["C4.5","TATA(r=0,k=3)","TATA(r=3,k=3)","TATA(r=3,k=16)"],"range":[[1,0],[6,3],[3,3],[1,2]]},"legend":{"legendX":333.7,"legendY":0}}
 }},
 {"data":{"name":"p3"},"mark":{"type":"point","opacity":0},"encoding":{
  "x":{"field":"x","type":"quantitative","scale":{"domain":[0,300],"nice":false,"zero":false},"axis":{"orient":"top","values":[0,50,100,150,200,250,300],"labels":false,"title":null}},
  "y":{"field":"y","type":"quantitative","scale":{"domain":[0,69],"nice":false,"zero":false},"axis":{"orient":"right","values":[0,10,20,30,40,50,60],"labels":false,"title":null}}
 }}
]},
{"width":373,"height":262,"resolve":{"axis":{"x":"independent","y":"independent"}},"layer":[
 {"data":{"name":"p4"},"mark":{"type":"line","strokeWidth":1},"encoding":{
  "x":{"field":"x","type":"quantitative","scale":{"domain":[0,280],"nice":false,"zero":false},"axis":{"values":[0,50,100,150,200,250],"title":"Maximal classification cost"}},
  "y":{"field":"y","type":"quantitative","scale":{"domain":[35,85],"nice":false,"zero":false},"axis":{"values":[35,40,45,50,55,60,65,70,75,80,85],"title":"Misclassification cost"}},
  "color":{"field":"s","type":"nominal","scale":{"domain":["C4.5","TATA(r=0,k=3)","TATA(r=3,k=3)","TATA(r=3,k=16)"],"range":["#000000","#000000","#000000","#8a8a8a"]},"legend":{"legendX":121,"legendY":206.8}},
  "strokeDash":{"field":"s","type":"nominal","scale":{"domain":["C4.5","TATA(r=0,k=3)","TATA(r=3,k=3)","TATA(r=3,k=16)"],"range":[[1,0],[6,3],[3,3],[1,2]]},"legend":{"legendX":121,"legendY":206.8}}
 }},
 {"data":{"name":"p4"},"mark":{"type":"point","opacity":0},"encoding":{
  "x":{"field":"x","type":"quantitative","scale":{"domain":[0,280],"nice":false,"zero":false},"axis":{"orient":"top","values":[0,50,100,150,200,250],"labels":false,"title":null}},
  "y":{"field":"y","type":"quantitative","scale":{"domain":[35,85],"nice":false,"zero":false},"axis":{"orient":"right","values":[35,40,45,50,55,60,65,70,75,80,85],"labels":false,"title":null}}
 }}
]}
],"spacing":85,"bounds":"flush","resolve":{"scale":{"color":"independent","strokeDash":"independent"},"legend":{"color":"independent","strokeDash":"independent"}}}
]
}
